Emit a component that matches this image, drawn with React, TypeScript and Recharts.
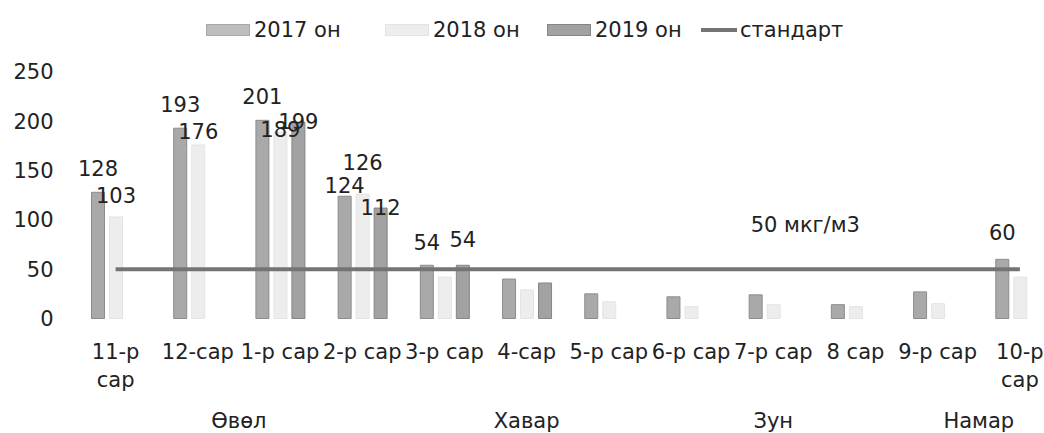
import React from 'react';
import { ComposedChart, Bar, Line, XAxis, YAxis, Legend, LabelList } from 'recharts';

const months = ['11-р сар', '12-сар', '1-р сар', '2-р сар', '3-р сар', '4-сар', '5-р сар', '6-р сар', '7-р сар', '8 сар', '9-р сар', '10-р сар'];
const seasons = ['Өвөл', 'Хавар', 'Зун', 'Намар'];
const seasonMonthCount = [4, 3, 3, 2];

const y2017 = [128, 193, 201, 124, 54, 40, 25, 22, 24, 14, 27, 60];
const y2018 = [103, 176, 189, 126, 42, 29, 17, 12, 14, 12, 15, 42];
const y2019 = [null, null, 199, 112, 54, 36, null, null, null, null, null, null];
const standard = [50, 50, 50, 50, 50, 50, 50, 50, 50, 50, 50, 50];
const yTicks = [0, 50, 100, 150, 200, 250];
const standardText = '50 мкг/м3';

const data = months.map((month, i) => ({
  month,
  y2017: y2017[i],
  y2018: y2018[i],
  y2019: y2019[i],
  standard: standard[i],
}));

// layout
const CHART_W = 1080;
const CHART_H = 433;
const PLOT_LEFT = 74.5;
const PLOT_RIGHT = 1061;
const BAND = (PLOT_RIGHT - PLOT_LEFT) / months.length;
const FONT = '"DejaVu Sans", sans-serif';
const TEXT = '#222';

// how far each value label sits above its bar (Excel labels were dragged by hand)
const lift2017 = [23, 23, 23, 10, 22, 0, 0, 0, 0, 0, 0, 26];
const lift2018 = [21, 13, 2, 31, 0, 0, 0, 0, 0, 0, 0, 0];
const lift2019 = [0, 0, 25, 6, 22, 0, 0, 0, 0, 0, 0, 0];

const barLabel = (lifts: number[]) => (props: any) => {
  const { x, y, width, value, index } = props;
  if (value == null || value <= standard[index]) return null;
  return (
    <text
      x={Number(x) + Number(width) / 2}
      y={Number(y) - lifts[index]}
      textAnchor="middle"
      dominantBaseline="central"
      fontFamily={FONT}
      fontSize={21}
      fill={TEXT}
    >
      {value}
    </text>
  );
};

const StandardLabel = (props: any) => {
  const { x, y, index } = props;
  if (index !== 8) return null;
  return (
    <text x={x + 32} y={y - 44} textAnchor="middle" dominantBaseline="central" fontFamily={FONT} fontSize={21} fill={TEXT}>
      {standardText}
    </text>
  );
};

const MonthTick = (props: any) => {
  const { x, y, payload } = props;
  const label: string = payload.value;
  const wrap = payload.index === 0 || payload.index === months.length - 1;
  const lines = wrap ? [label.slice(0, label.lastIndexOf(' ')), label.slice(label.lastIndexOf(' ') + 1)] : [label];
  return (
    <g>
      {lines.map((line, i) => (
        <text
          key={i}
          x={x}
          y={y + 33.5 + i * 28}
          textAnchor="middle"
          dominantBaseline="central"
          fontFamily={FONT}
          fontSize={21}
          fill={TEXT}
        >
          {line}
        </text>
      ))}
    </g>
  );
};

const SeasonTick = (props: any) => {
  const { x, y, payload } = props;
  let start = 0;
  for (let s = 0; s < seasons.length; s++) {
    if (payload.index === start) {
      const cx = x + ((seasonMonthCount[s] - 1) / 2) * BAND;
      return (
        <text x={cx} y={y + 32} textAnchor="middle" dominantBaseline="central" fontFamily={FONT} fontSize={21} fill={TEXT}>
          {seasons[s]}
        </text>
      );
    }
    start += seasonMonthCount[s];
  }
  return null;
};

const legendLeft = [206, 385, 547, 701];

const LegendContent = (props: any) => {
  const { payload } = props;
  return (
    <div style={{ position: 'relative', width: 1044, height: 32 }}>
      {(payload || []).map((item: any, i: number) => {
        const isLine = item.type === 'line';
        const swatch = isLine ? (
          <div style={{ width: 36, height: 4, background: '#747474' }} />
        ) : (
          <div
            style={{
              width: 42,
              height: 10,
              background: item.payload?.fill ?? item.color,
              border: `1px solid ${item.payload?.stroke ?? item.color}`,
              opacity: i === 0 ? 0.75 : 1,
            }}
          />
        );
        return (
          <div
            key={i}
            style={{
              position: 'absolute',
              left: legendLeft[i],
              top: 0,
              height: 32,
              display: 'flex',
              alignItems: 'center',
              gap: isLine ? 3 : 4,
              fontFamily: FONT,
              fontSize: 21,
              color: TEXT,
              whiteSpace: 'nowrap',
            }}
          >
            {swatch}
            <span>{item.value}</span>
          </div>
        );
      })}
    </div>
  );
};

export default function App() {
  return (
    <div style={{ position: 'absolute', left: 0, top: 0, width: 1044, height: 433, overflow: 'hidden', background: '#fff' }}>
      <ComposedChart
        width={CHART_W}
        height={CHART_H}
        data={data}
        margin={{ top: 72, right: CHART_W - PLOT_RIGHT, bottom: 0, left: 0 }}
        barSize={13}
        barGap={5}
      >
        <XAxis
          dataKey="month"
          height={70}
          axisLine={false}
          tickLine={false}
          tickSize={0}
          tickMargin={0}
          interval={0}
          tick={<MonthTick />}
        />
        <XAxis
          xAxisId="season"
          dataKey="month"
          height={44.5}
          axisLine={false}
          tickLine={false}
          tickSize={0}
          tickMargin={0}
          interval={0}
          tick={<SeasonTick />}
        />
        <YAxis
          domain={[0, 250]}
          ticks={yTicks}
          width={PLOT_LEFT}
          axisLine={false}
          tickLine={false}
          tickSize={0}
          tickMargin={21}
          tick={{ fontFamily: FONT, fontSize: 21, fill: TEXT }}
        />
        <Legend
          verticalAlign="middle"
          align="center"
          layout="horizontal"
          wrapperStyle={{ top: 14, left: 0, width: 1044, height: 32 }}
          content={<LegendContent />}
        />
        <Bar dataKey="y2017" name="2017 он" fill="#a9a9a9" stroke="#8c8c8c" strokeWidth={1} isAnimationActive={false}>
          <LabelList dataKey="y2017" content={barLabel(lift2017)} />
        </Bar>
        <Bar dataKey="y2018" name="2018 он" fill="#ededed" stroke="#e4e4e4" strokeWidth={1} isAnimationActive={false}>
          <LabelList dataKey="y2018" content={barLabel(lift2018)} />
        </Bar>
        <Bar dataKey="y2019" name="2019 он" fill="#a2a2a2" stroke="#858585" strokeWidth={1} isAnimationActive={false}>
          <LabelList dataKey="y2019" content={barLabel(lift2019)} />
        </Bar>
        <Line
          dataKey="standard"
          name="стандарт"
          type="linear"
          stroke="#747474"
          strokeWidth={4}
          dot={false}
          legendType="line"
          isAnimationActive={false}
        >
          <LabelList dataKey="standard" content={<StandardLabel />} />
        </Line>
      </ComposedChart>
    </div>
  );
}
